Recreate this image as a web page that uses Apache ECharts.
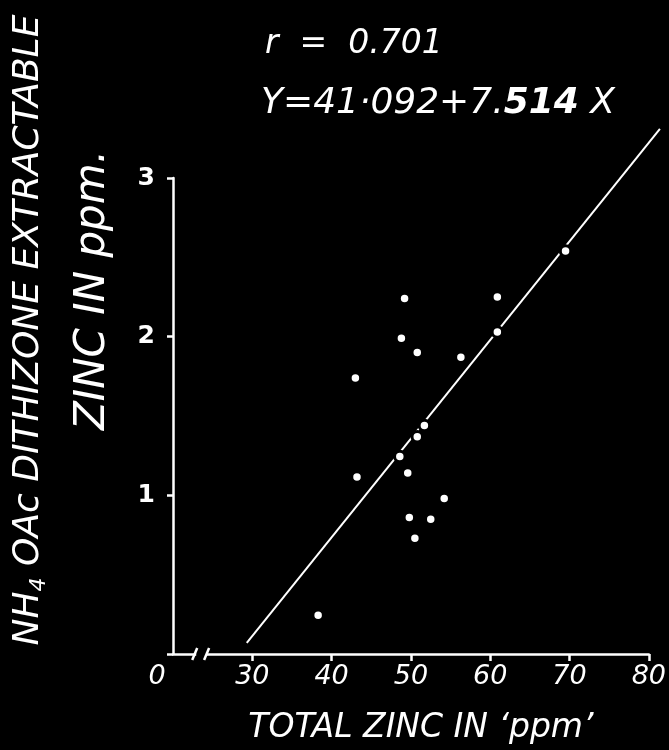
<!DOCTYPE html>
<html>
<head>
<meta charset="utf-8">
<script src="https://cdn.jsdelivr.net/npm/echarts@6/dist/echarts.min.js"></script>
<style>
  html, body { margin: 0; padding: 0; background: #000; }
  #chart { width: 669px; height: 750px; }
</style>
</head>
<body>
<div id="chart"></div>
<script>
// Total zinc (ppm) vs NH4OAc dithizone-extractable zinc (ppm), one entry per sample
const totalZinc       = [49.2, 60.9, 48.8, 60.9, 50.8, 56.3, 43.0, 51.7, 50.8, 48.6, 43.2, 49.6, 54.2, 49.8, 52.5, 50.5, 38.3, 69.5];
const extractableZinc = [2.24, 2.25, 1.99, 2.03, 1.90, 1.87, 1.74, 1.44, 1.37, 1.245, 1.115, 1.14, 0.98, 0.86, 0.85, 0.73, 0.245, 2.54];

// Fitted regression line, drawn between its two end values
const fitX = [29.3, 81.4];
const fitY = [0.07, 3.31];

// Axis ticks
const xTicks = [30, 40, 50, 60, 70, 80];
// Where the x axis is broken (values)
const xBreak = [22.8, 24.3];

const FONT = '"DejaVu Sans", "Open Sans", sans-serif';
const WHITE = '#ffffff';

const chart = echarts.init(document.getElementById('chart'), null, { renderer: 'canvas' });

const points = totalZinc.map((x, i) => [x, extractableZinc[i]]);

chart.setOption({
  backgroundColor: '#000000',
  animation: false,
  grid: { left: 173, right: 19, top: 178, bottom: 95 },
  xAxis: {
    type: 'value',
    min: 20,
    max: 80,
    interval: 10,
    splitLine: { show: false },
    axisLine: { lineStyle: { color: WHITE, width: 2.5 } },
    axisTick: { customValues: xTicks, length: 7, lineStyle: { color: WHITE, width: 2.5 } },
    axisLabel: {
      customValues: [20].concat(xTicks),
      formatter: v => (v === 20 ? '{o|0}' : String(v)),
      color: WHITE,
      fontSize: 27,
      fontStyle: 'italic',
      fontFamily: FONT,
      margin: 9,
      rich: {
        o: { color: WHITE, fontSize: 27, fontStyle: 'italic', fontFamily: FONT, padding: [0, 32, 0, 0] }
      }
    },
    name: 'TOTAL ZINC IN \u2018ppm\u2019',
    nameLocation: 'middle',
    nameGap: 58,
    nameTextStyle: {
      color: WHITE,
      fontSize: 33,
      fontStyle: 'italic',
      fontFamily: FONT,
      padding: [0, 0, 0, 20]
    }
  },
  yAxis: {
    type: 'value',
    min: 0,
    max: 3,
    interval: 1,
    splitLine: { show: false },
    axisLine: { lineStyle: { color: WHITE, width: 2.5 } },
    axisTick: { length: 6, lineStyle: { color: WHITE, width: 2.5 } },
    axisLabel: {
      formatter: v => (v === 0 ? '' : String(v)),
      color: WHITE,
      fontSize: 25,
      fontWeight: 'bold',
      fontFamily: FONT,
      margin: 18,
      padding: [6, 0, 0, 0]
    }
  },
  series: [
    {
      // Regression line; a custom series so it may run past the axis ends
      type: 'custom',
      data: [[fitX[0], fitY[0], fitX[1], fitY[1]]],
      encode: { x: [0, 2], y: [1, 3] },
      clip: false,
      z: 2,
      renderItem: (params, api) => {
        const p0 = api.coord([api.value(0), api.value(1)]);
        const p1 = api.coord([api.value(2), api.value(3)]);
        return {
          type: 'line',
          shape: { x1: p0[0], y1: p0[1], x2: p1[0], y2: p1[1] },
          style: { stroke: WHITE, lineWidth: 2, fill: null }
        };
      }
    },
    {
      type: 'scatter',
      data: points,
      symbol: 'circle',
      symbolSize: 10.5,
      z: 3,
      itemStyle: { color: WHITE, borderColor: '#000000', borderWidth: 3, opacity: 1 }
    }
  ]
});

// Annotations, axis break and the rotated y-axis title
const bx0 = chart.convertToPixel({ xAxisIndex: 0 }, xBreak[0]);
const bx1 = chart.convertToPixel({ xAxisIndex: 0 }, xBreak[1]);
const by = chart.convertToPixel({ yAxisIndex: 0 }, 0);

chart.setOption({
  graphic: [
    {
      id: 'breakGap', type: 'rect', z: 50,
      shape: { x: bx0 + 1, y: by - 3, width: bx1 - bx0 - 2, height: 6 },
      style: { fill: '#000000' }
    },
    {
      id: 'breakA', type: 'line', z: 51,
      shape: { x1: bx0 - 3, y1: by + 6, x2: bx0 + 2, y2: by - 6 },
      style: { stroke: WHITE, lineWidth: 2.5 }
    },
    {
      id: 'breakB', type: 'line', z: 51,
      shape: { x1: bx1 - 3, y1: by + 6, x2: bx1 + 2, y2: by - 6 },
      style: { stroke: WHITE, lineWidth: 2.5 }
    },
    {
      id: 'rValue', type: 'text', z: 60,
      x: 265, y: 44,
      style: {
        text: 'r  =  0.701',
        fill: WHITE,
        font: 'italic 33px ' + FONT,
        align: 'left',
        verticalAlign: 'middle'
      }
    },
    {
      id: 'equation', type: 'text', z: 60,
      x: 261, y: 104,
      style: {
        text: '{a|Y=41\u00b7092+7.}{b|514}{a| X}',
        align: 'left',
        verticalAlign: 'middle',
        rich: {
          a: { fill: WHITE, fontSize: 36, fontStyle: 'italic', fontFamily: FONT },
          b: { fill: WHITE, fontSize: 36, fontStyle: 'italic', fontWeight: 'bold', fontFamily: FONT }
        }
      }
    },
    {
      id: 'yTitle1', type: 'text', z: 60,
      x: 29, y: 330, rotation: Math.PI / 2,
      style: {
        text: '{a|NH}{s|4}{a| OAc DITHIZONE EXTRACTABLE}',
        align: 'center',
        verticalAlign: 'middle',
        rich: {
          a: { fill: WHITE, fontSize: 36, fontStyle: 'italic', fontFamily: FONT, lineHeight: 42, verticalAlign: 'middle' },
          s: { fill: WHITE, fontSize: 22, fontStyle: 'italic', fontFamily: FONT, lineHeight: 42, verticalAlign: 'bottom', padding: [12, 0, 0, 0] }
        }
      }
    },
    {
      id: 'yTitle2', type: 'text', z: 60,
      x: 93, y: 290, rotation: Math.PI / 2,
      style: {
        text: 'ZINC IN ppm.',
        fill: WHITE,
        font: 'italic 42px ' + FONT,
        align: 'center',
        verticalAlign: 'middle'
      }
    }
  ]
});
</script>
</body>
</html>
